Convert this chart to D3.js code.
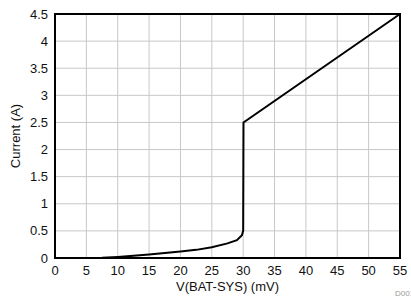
<!DOCTYPE html>
<html>
<head>
<meta charset="utf-8">
<script src="https://cdn.jsdelivr.net/npm/d3@7"></script>
<style>
  body { margin: 0; background: #fff; }
  text { font-family: "Liberation Sans", Arial, sans-serif; fill: #111; }
</style>
</head>
<body>
<svg width="411" height="298"></svg>
<script>
// curve
var voltage = [7.5, 10, 12.5, 15, 17.5, 20, 22.5, 25, 27.5, 29, 29.8, 30, 30.05, 55];
var current = [0.005, 0.02, 0.04, 0.065, 0.09, 0.12, 0.15, 0.2, 0.27, 0.33, 0.42, 0.5, 2.5, 4.5];
var xTicks = [0, 5, 10, 15, 20, 25, 30, 35, 40, 45, 50, 55];
var yTicks = [0, 0.5, 1, 1.5, 2, 2.5, 3, 3.5, 4, 4.5];

var svg = d3.select("svg");
var m = { left: 55, right: 400, top: 14, bottom: 258 };

var x = d3.scaleLinear().domain([0, 55]).range([m.left, m.right]);
var y = d3.scaleLinear().domain([0, 4.5]).range([m.bottom, m.top]);

// grid
svg.append("g").selectAll("line").data(xTicks).enter().append("line")
    .attr("x1", d => x(d)).attr("x2", d => x(d))
    .attr("y1", m.top).attr("y2", m.bottom)
    .attr("stroke", "#c8c8c8").attr("stroke-width", 1);
svg.append("g").selectAll("line").data(yTicks).enter().append("line")
    .attr("x1", m.left).attr("x2", m.right)
    .attr("y1", d => y(d)).attr("y2", d => y(d))
    .attr("stroke", "#c8c8c8").attr("stroke-width", 1);

// tick labels
svg.append("g").selectAll("text").data(xTicks).enter().append("text")
    .attr("x", d => x(d)).attr("y", 275)
    .attr("text-anchor", "middle").style("font-size", "13px")
    .text(d => d);
svg.append("g").selectAll("text").data(yTicks).enter().append("text")
    .attr("x", 48).attr("y", d => y(d) + 4.5)
    .attr("text-anchor", "end").style("font-size", "13px")
    .text(d => d);

// curve
var pts = voltage.map((v, i) => [v, current[i]]);
svg.append("path")
    .datum(pts)
    .attr("fill", "none")
    .attr("stroke", "#000")
    .attr("stroke-width", 2)
    .attr("d", d3.line().x(d => x(d[0])).y(d => y(d[1])));

// frame
svg.append("rect")
    .attr("x", m.left).attr("y", m.top)
    .attr("width", m.right - m.left).attr("height", m.bottom - m.top)
    .attr("fill", "none").attr("stroke", "#000").attr("stroke-width", 2);

// axis titles
svg.append("text")
    .attr("x", (m.left + m.right) / 2).attr("y", 291)
    .attr("text-anchor", "middle").style("font-size", "13px")
    .text("V(BAT-SYS) (mV)");
svg.append("text")
    .attr("transform", "translate(20," + ((m.top + m.bottom) / 2) + ") rotate(-90)")
    .attr("text-anchor", "middle").style("font-size", "13px")
    .text("Current (A)");

svg.append("text")
    .attr("x", 395).attr("y", 296)
    .style("font-size", "8px").style("fill", "#999")
    .text("D001");
</script>
</body>
</html>
